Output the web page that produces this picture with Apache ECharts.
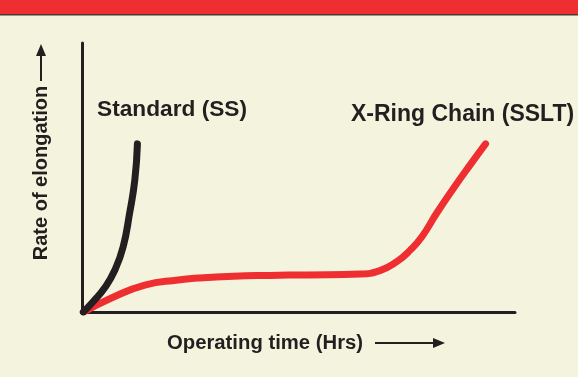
<!DOCTYPE html>
<html>
<head>
<meta charset="utf-8">
<script src="https://cdn.jsdelivr.net/npm/echarts@6/dist/echarts.min.js"></script>
<style>
  html, body { margin: 0; padding: 0; background: #f4f3dd; }
  #chart { width: 578px; height: 377px; }
</style>
</head>
<body>
<div id="chart"></div>
<script>
// curves, x = operating time, y = elongation (0-100 scale)
var standardTime = [0.3, 2.5, 5.2, 7.6, 9.5, 11.0, 12.2, 12.8];
var standardElong = [0, 3.7, 8.9, 15.6, 24.2, 36.8, 49.1, 62.5];
var xringTime = [0.4, 6.8, 14.5, 22.2, 26.8, 35, 43.4, 52, 64.2, 68.8, 72.7, 75.8, 78.5, 81.9, 85.8, 89.6, 93.2];
var xringElong = [0, 5.2, 10.0, 11.9, 12.6, 13.3, 13.6, 13.8, 14.1, 15.4, 18.7, 23.0, 28.0, 36.7, 46.0, 54.6, 62.5];

function pairs(xs, ys) {
  return xs.map(function (x, i) { return [x, ys[i]]; });
}

var chart = echarts.init(document.getElementById('chart'));
var ink = '#231f20';
var font = '"Liberation Sans", Arial, sans-serif';

var option = {
  backgroundColor: '#f4f3dd',
  animation: false,
  grid: { left: 82, right: 63, top: 43, bottom: 65 },
  xAxis: {
    type: 'value', min: 0, max: 100,
    axisLine: { lineStyle: { color: ink, width: 3 } },
    axisTick: { show: false }, axisLabel: { show: false }, splitLine: { show: false }
  },
  yAxis: {
    type: 'value', min: 0, max: 100,
    axisLine: { show: true, lineStyle: { color: ink, width: 3 } },
    axisTick: { show: false }, axisLabel: { show: false }, splitLine: { show: false }
  },
  series: [
    {
      name: 'X-Ring Chain (SSLT)',
      type: 'line',
      smooth: 0.5,
      symbol: 'none',
      data: pairs(xringTime, xringElong),
      lineStyle: { color: '#ee2e31', width: 7, cap: 'round', join: 'round' }
    },
    {
      name: 'Standard (SS)',
      type: 'line',
      smooth: 0.5,
      symbol: 'none',
      data: pairs(standardTime, standardElong),
      lineStyle: { color: ink, width: 7, cap: 'round', join: 'round' }
    }
  ],
  graphic: [
    { type: 'rect', shape: { x: 0, y: 0, width: 578, height: 14 }, style: { fill: '#ee2e31' } },
    { type: 'rect', shape: { x: 0, y: 14, width: 578, height: 1.5 }, style: { fill: '#4a3b30' } },
    {
      type: 'text', x: 97, y: 110,
      style: { text: 'Standard (SS)', fill: ink, font: 'bold 22.7px ' + font, verticalAlign: 'middle' }
    },
    {
      type: 'text', x: 351, y: 115,
      style: { text: 'X-Ring Chain (SSLT)', fill: ink, font: 'bold 23px ' + font, verticalAlign: 'middle' }
    },
    {
      type: 'text', x: 167, y: 343,
      style: { text: 'Operating time (Hrs)', fill: ink, font: 'bold 20.3px ' + font, verticalAlign: 'middle' }
    },
    {
      type: 'text', x: 41, y: 173, rotation: Math.PI / 2,
      style: { text: 'Rate of elongation', fill: ink, font: 'bold 20px ' + font, align: 'center', verticalAlign: 'middle' }
    },
    { type: 'line', shape: { x1: 375, y1: 343, x2: 436, y2: 343 }, style: { stroke: ink, lineWidth: 2 } },
    { type: 'polygon', shape: { points: [[445, 343], [433, 338], [433, 348]] }, style: { fill: ink } },
    { type: 'line', shape: { x1: 41, y1: 54, x2: 41, y2: 81 }, style: { stroke: ink, lineWidth: 2 } },
    { type: 'polygon', shape: { points: [[41, 44], [36, 56], [46, 56]] }, style: { fill: ink } }
  ]
};
chart.setOption(option);
</script>
</body>
</html>
